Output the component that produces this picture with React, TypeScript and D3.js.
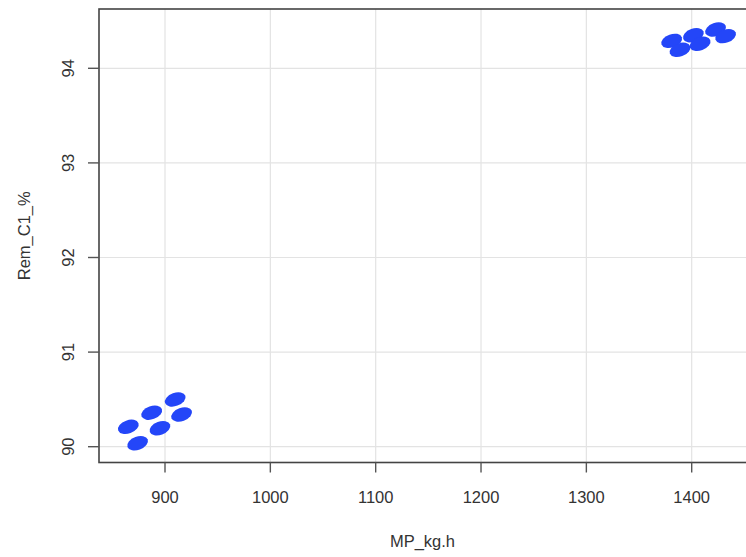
import React, { useEffect, useRef } from "react";
import * as d3 from "d3";

const mpKgH = [865.2, 887.4, 909.7, 874.0, 895.2, 915.8, 1381.0, 1388.9, 1401.6, 1408.0, 1422.7, 1432.2];
const remC1 = [90.21, 90.36, 90.5, 90.036, 90.195, 90.34, 94.29, 94.195, 94.35, 94.26, 94.41, 94.34];
const xTicks = [900, 1000, 1100, 1200, 1300, 1400];
const yTicks = [90, 91, 92, 93, 94];
const xTitle = "MP_kg.h";
const yTitle = "Rem_C1_%";

const W = 746;
const H = 557;
const box = { left: 99, top: 9, right: 747, bottom: 462.5 };

export default function App() {
  const ref = useRef<SVGSVGElement | null>(null);
  useEffect(() => {
    const svg = d3.select(ref.current);
    svg.selectAll("*").remove();
    const x = d3.scaleLinear().domain([900, 1400]).range([165, 691.7]);
    const y = d3.scaleLinear().domain([90, 94]).range([446.7, 68.3]);
    const font = "'Liberation Sans', Arial, sans-serif";
    const fs = 16.5;

    svg.append("rect").attr("width", W).attr("height", H).attr("fill", "#fff");

    const g = svg.append("g");
    g.selectAll(".gx").data(xTicks).enter().append("line")
      .attr("x1", d => x(d)).attr("x2", d => x(d))
      .attr("y1", box.top).attr("y2", box.bottom)
      .attr("stroke", "#e3e3e3").attr("stroke-width", 1.2);
    g.selectAll(".gy").data(yTicks).enter().append("line")
      .attr("y1", d => y(d)).attr("y2", d => y(d))
      .attr("x1", box.left).attr("x2", box.right)
      .attr("stroke", "#e3e3e3").attr("stroke-width", 1.2);

    g.selectAll(".pt").data(mpKgH.map((v, i) => [v, remC1[i]])).enter().append("ellipse")
      .attr("transform", d => `translate(${x(d[0])},${y(d[1])}) rotate(-20)`)
      .attr("rx", 10.8).attr("ry", 6.6)
      .attr("fill", "#2446f8");

    g.append("rect")
      .attr("x", box.left).attr("y", box.top)
      .attr("width", box.right - box.left).attr("height", box.bottom - box.top)
      .attr("fill", "none").attr("stroke", "#444").attr("stroke-width", 1.6);

    g.selectAll(".tx").data(xTicks).enter().append("line")
      .attr("x1", d => x(d)).attr("x2", d => x(d))
      .attr("y1", box.bottom).attr("y2", box.bottom + 10)
      .attr("stroke", "#555").attr("stroke-width", 1.4);
    g.selectAll(".ty").data(yTicks).enter().append("line")
      .attr("y1", d => y(d)).attr("y2", d => y(d))
      .attr("x1", box.left - 11).attr("x2", box.left)
      .attr("stroke", "#555").attr("stroke-width", 1.4);

    g.selectAll(".lx").data(xTicks).enter().append("text")
      .attr("x", d => x(d)).attr("y", 503)
      .attr("text-anchor", "middle")
      .attr("font-family", font).attr("font-size", fs).attr("fill", "#333")
      .text(d => String(d));
    g.selectAll(".ly").data(yTicks).enter().append("text")
      .attr("transform", d => `translate(74,${y(d)}) rotate(-90)`)
      .attr("text-anchor", "middle")
      .attr("font-family", font).attr("font-size", fs).attr("fill", "#333")
      .text(d => String(d));

    svg.append("text")
      .attr("x", (box.left + 746) / 2).attr("y", 547)
      .attr("text-anchor", "middle")
      .attr("font-family", font).attr("font-size", fs).attr("fill", "#333")
      .text(xTitle);
    svg.append("text")
      .attr("transform", `translate(30,${(box.top + box.bottom) / 2}) rotate(-90)`)
      .attr("text-anchor", "middle")
      .attr("font-family", font).attr("font-size", fs).attr("fill", "#333")
      .text(yTitle);
  }, []);
  return (
    <svg ref={ref} width={W} height={H} style={{ position: "absolute", left: 0, top: 0, display: "block" }} />
  );
}
